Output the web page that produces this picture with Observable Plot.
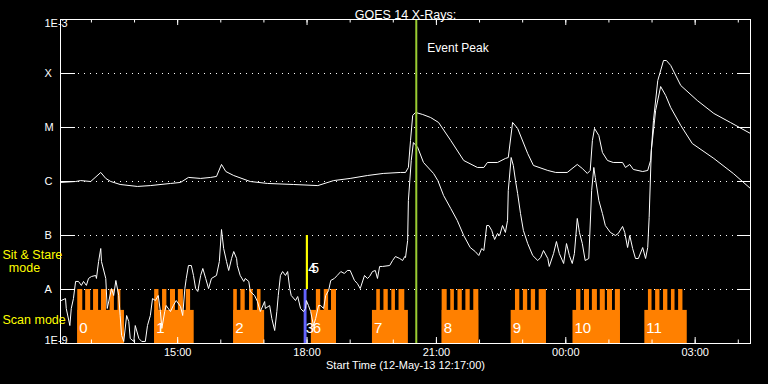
<!DOCTYPE html>
<html><head><meta charset="utf-8">
<script src="https://cdn.jsdelivr.net/npm/d3@7"></script>
<script src="https://cdn.jsdelivr.net/npm/@observablehq/plot@0.6"></script>
<style>html,body{margin:0;padding:0;background:#000;}</style>
</head><body><div id="chart"></div>
<script>
// ---- text ----
const title = "GOES 14 X-Rays:";
const xAxisTitle = "Start Time (12-May-13 12:17:00)";
const eventPeakLabel = "Event Peak";
const sitStareModeLabel = ["Sit & Stare", "mode"];
const scanModeLabel = "Scan mode";

// ---- time axis ----
const startTime = "2013-05-12T12:17:00Z";
const endTime = "2013-05-13T04:17:00Z";
const xTickTimes = ["2013-05-12T15:00:00Z", "2013-05-12T18:00:00Z", "2013-05-12T21:00:00Z", "2013-05-13T00:00:00Z", "2013-05-13T03:00:00Z"];
const xTickLabels = ["15:00", "18:00", "21:00", "00:00", "03:00"];

// ---- flux axis ----
const yTickValues = [1e-9, 1e-8, 1e-7, 1e-6, 1e-5, 1e-4, 1e-3];
const yTickLabels = ["1E-9", "A", "B", "C", "M", "X", "1E-3"];

// ---- GOES long channel (1-8 A): [minutes after start, W/m^2] ----
const longChannel = [[0,9.6e-7],[21,1.0e-6],[28,1.04e-6],[42,1.0e-6],[56,1.47e-6],[63,1.14e-6],[70,1.0e-6],[83,8.8e-7],[107,8.1e-7],[125,8.4e-7],
[153,9.2e-7],[167,9.6e-7],[178,1.19e-6],[195,1.14e-6],[209,1.19e-6],[217,1.24e-6],[224,2.07e-6],[230,1.53e-6],[241,1.29e-6],[264,1.0e-6],
[288,9.2e-7],[324,8.8e-7],[358,8.4e-7],[380,1.04e-6],[403,1.14e-6],[427,1.29e-6],[449,1.41e-6],[473,1.47e-6],[480,1.47e-6],[484,1.82e-6],
[487,5.74e-6],[490,1.67e-5],[494,1.9e-5],[504,1.74e-5],[515,1.53e-5],[526,1.24e-5],[543,5.74e-6],[561,2.45e-6],[580,1.82e-6],[589,1.82e-6],
[594,2.25e-6],[608,2.25e-6],[619,2.67e-6],[623,2.78e-6],[629,1.24e-5],[636,9.6e-6],[650,3.3e-6],[658,1.98e-6],[678,1.6e-6],[689,1.47e-6],
[705,1.47e-6],[719,2.07e-6],[726,1.74e-6],[733,1.41e-6],[737,1.6e-6],[740,5.74e-6],[743,9.6e-6],[749,7.1e-6],[754,3.44e-6],[761,2.45e-6],
[769,2.25e-6],[782,2.25e-6],[786,1.82e-6],[792,2.07e-6],[797,1.67e-6],[810,1.53e-6],[817,1.6e-6],[821,2.45e-6],[825,1.35e-5],[831,7.41e-5],
[839,1.74e-4],[843,1.74e-4],[849,1.41e-4],[863,5.99e-5],[886,3.16e-5],[909,1.82e-5],[932,1.24e-5],[960,7.74e-6]];

// ---- GOES short channel (0.5-4 A): [minutes after start, W/m^2] ----
const shortChannel = [[1,6.25e-9],[7,6.8e-9],[8,4.45e-9],[13,2.15e-9],[15,4.45e-9],[18,6.8e-9],[21,1.41e-8],[25,1.41e-8],[29,1.19e-8],[32,1.41e-8],
[36,1.19e-8],[39,1.6e-8],[43,1.74e-8],[49,1.82e-8],[50,1.6e-8],[53,3.3e-8],[56,5.74e-8],[57,3.3e-8],[63,1.6e-8],[65,4.45e-9],
[71,1.04e-8],[74,7.74e-9],[77,1.47e-8],[81,7.74e-9],[83,3.3e-9],[85,1.41e-9],[88,1.09e-9],[92,3.3e-9],[95,2.55e-9],[97,1.24e-9],
[102,1.09e-9],[104,2.15e-9],[109,1.24e-9],[113,1.09e-9],[118,1.09e-9],[121,2.15e-9],[125,3.3e-9],[128,6.8e-9],[132,6.25e-9],[136,7.74e-9],
[139,3.91e-9],[141,1.9e-9],[145,3.91e-9],[147,5.05e-9],[153,3.91e-9],[157,5.05e-9],[161,6.25e-9],[167,4.84e-9],[170,3.3e-9],[173,1.04e-8],
[175,1.6e-8],[178,2.78e-8],[182,2.78e-8],[185,1.82e-8],[188,1.04e-8],[191,9.2e-9],[195,1.82e-8],[198,2.45e-8],[202,1.6e-8],[206,1.04e-8],
[210,1.6e-8],[217,1.82e-8],[221,3.3e-8],[224,1.29e-7],[227,5.74e-8],[231,3.3e-8],[234,2.25e-8],[238,3.75e-8],[241,5.05e-8],[245,3.75e-8],
[246,2.78e-8],[250,1.82e-8],[255,1.41e-8],[257,1.6e-8],[262,1.41e-8],[264,9.2e-9],[270,7.74e-9],[274,5.99e-9],[278,3.91e-9],[284,5.99e-9],
[285,4.45e-9],[291,5.05e-9],[294,2.9e-9],[298,1.74e-9],[301,3.91e-9],[303,7.74e-9],[306,1.82e-8],[309,2.15e-8],[313,1.82e-8],[316,2.15e-8],
[319,1.04e-8],[321,7.74e-9],[327,6.25e-9],[330,7.41e-9],[334,4.45e-9],[338,3.91e-9],[341,4.45e-9],[342,6.25e-9],[345,5.05e-9],[348,3.91e-9],
[352,2.15e-9],[355,2.9e-9],[359,5.05e-9],[362,5.05e-9],[366,4.45e-9],[369,7.74e-9],[373,9.58e-9],[376,1.47e-8],[381,1.6e-8],[385,1.82e-8],
[390,2.15e-8],[395,1.98e-8],[399,2.25e-8],[403,2.25e-8],[409,1.47e-8],[413,1.29e-8],[417,1.04e-8],[423,1.82e-8],[427,1.6e-8],[430,1.74e-8],
[434,2.15e-8],[438,2.25e-8],[441,1.6e-8],[444,2.67e-8],[448,2.67e-8],[458,2.78e-8],[462,3.44e-8],[466,4.08e-8],[472,3.75e-8],[476,3.44e-8],
[479,4.08e-8],[480,3.91e-8],[483,8.07e-8],[484,4.45e-7],[488,2.45e-6],[491,5.27e-6],[497,4.26e-6],[505,2.25e-6],[519,1.41e-6],[525,1.04e-6],
[533,5.5e-7],[543,3.16e-7],[552,1.9e-7],[561,1.0e-7],[570,5.99e-8],[577,5.05e-8],[582,4.26e-8],[586,5.74e-8],[589,5.27e-8],[593,1.53e-7],
[596,1.53e-7],[600,1.24e-7],[604,8.43e-8],[608,1.09e-7],[611,1.0e-7],[615,1.53e-7],[619,1.14e-7],[622,1.9e-7],[623,6.81e-7],[627,2.78e-6],
[630,1.98e-6],[633,1.04e-6],[636,5.99e-7],[640,2.55e-7],[644,1.24e-7],[650,7.1e-8],[657,4.26e-8],[664,3.44e-8],[668,3.91e-8],[672,5.27e-8],
[678,3.75e-8],[680,2.67e-8],[686,4.64e-8],[690,7.74e-8],[694,4.64e-8],[700,3.03e-8],[704,7.1e-8],[708,4.26e-8],[712,3.03e-8],[715,4.64e-8],
[719,2.07e-7],[722,1.14e-7],[726,7.1e-8],[730,3.44e-8],[735,3.75e-8],[739,6.81e-7],[742,1.82e-6],[744,1.19e-6],[749,4.45e-7],[754,2.55e-7],
[758,1.53e-7],[765,1.14e-7],[772,1.0e-7],[776,1.09e-7],[782,1.47e-7],[785,1.14e-7],[789,5.99e-8],[792,1.0e-7],[796,5.74e-8],[800,3.75e-8],
[804,3.75e-8],[810,5.99e-8],[814,3.75e-8],[817,5.99e-8],[819,2.15e-7],[822,3.75e-6],[828,2.07e-5],[835,5.74e-5],[842,3.91e-5],[849,2.34e-5],
[863,1.09e-5],[879,5.05e-6],[909,2.67e-6],[936,1.41e-6],[960,7.41e-7]];

// ---- scan-mode observations: label, start, end (minutes after start) ----
const scanLabels   = ["0", "1", "2", "6", "7", "8", "9", "10", "11"];
const scanStartMin = [24, 131, 241, 349, 434, 531, 627, 713, 813];
const scanEndMin   = [89, 186, 284, 384, 484, 582, 676, 779, 872];
// individual rasters inside the scans [start, end]
const rasterWindows = [
  [24,31],[35,42],[46,53],[57,64],[69,75],[80,84],
  [131,137],[142,148],[153,160],[164,171],[175,181],
  [241,246],[251,257],[263,268],[274,279],
  [356,362],[367,373],[377,384],
  [440,445],[450,456],[461,466],[471,479],
  [531,538],[543,548],[553,559],[564,570],[575,582],
  [633,639],[644,650],[655,661],[666,676],
  [718,724],[729,736],[740,747],[751,758],[761,768],[772,779],
  [818,823],[828,834],[839,845],[850,855],[860,866]];
// short scan highlighted in blue
const blueScanLabel = "3", blueScanStart = 339, blueScanEnd = 343;
// sit & stare observations
const sitStareLabels = ["4", "5"];
const sitStareStart = 342, sitStareEnd = 345;
// flare peak
const eventPeakMin = 495;

// ---- helpers ----
const t0 = new Date(startTime).getTime();
const T = m => new Date(t0 + m * 60000);
const longData = longChannel.map(([m, f]) => ({t: T(m), f}));
const shortData = shortChannel.map(([m, f]) => ({t: T(m), f}));
const scans = scanLabels.map((l, i) => ({label: l, x1: T(scanStartMin[i]), x2: T(scanEndMin[i])}));
const rasters = rasterWindows.map(([a, b]) => ({x1: T(a), x2: T(b)}));
const blueScan = [{label: blueScanLabel, x1: T(blueScanStart), x2: T(blueScanEnd)}];
const sitStare = [{x1: T(sitStareStart), x2: T(sitStareEnd)}];
const hourTicks = d3.utcHour.range(new Date(startTime), new Date(endTime));
const majorTicks = xTickTimes.map(d => new Date(d));
const xLabelData = majorTicks.map((t, i) => ({t, label: xTickLabels[i]}));
const yTicks = yTickValues.map((v, i) => ({v, label: yTickLabels[i]}));
const gridLevels = yTickValues.slice(1, -1);

// levels (in flux units) of the observation bars
const FLOOR = 1e-9, SCAN_BASE = 4.1e-9, SCAN_TOP = 1e-8, SS_TOP = 1e-7;

const W = 768, H = 384, mL = 60, mR = 18, mT = 19, mB = 41;
const fw = W - mL - mR, fh = H - mT - mB;
const font = "Liberation Sans, Arial, sans-serif";
const ORANGE = "#ff8000", BLUE = "#6464ff", YEL = "#ffff00", GREEN = "#9acd32";
const ssX = T(sitStareStart);

const chart = Plot.plot({
  width: W, height: H,
  marginLeft: mL, marginRight: mR, marginTop: mT, marginBottom: mB,
  style: {background: "#000", color: "#fff", fontFamily: font},
  x: {type: "utc", domain: [new Date(startTime), new Date(endTime)], axis: null},
  y: {type: "log", domain: [1e-9, 1e-3], axis: null},
  marks: [
    // dotted gridlines + solid ticks on both sides
    Plot.ruleY(gridLevels, {stroke: "#fff", strokeWidth: 1, strokeDasharray: "1,5", insetLeft: 18, insetRight: 12}),
    Plot.ruleY(gridLevels, {stroke: "#fff", strokeWidth: 1, insetRight: fw - 15}),
    Plot.ruleY(gridLevels, {stroke: "#fff", strokeWidth: 1, insetLeft: fw - 13}),
    // scan blocks
    Plot.rect(scans, {x1: "x1", x2: "x2", y1: FLOOR, y2: SCAN_BASE, fill: ORANGE}),
    Plot.rect(rasters, {x1: "x1", x2: "x2", y1: FLOOR, y2: SCAN_TOP, fill: ORANGE}),
    Plot.rect(blueScan, {x1: "x1", x2: "x2", y1: FLOOR, y2: SCAN_TOP, fill: BLUE}),
    Plot.rect(sitStare, {x1: "x1", x2: "x2", y1: SCAN_TOP, y2: SS_TOP, fill: YEL}),
    // light curves
    Plot.line(shortData, {x: "t", y: "f", stroke: "#fff", strokeWidth: 1}),
    Plot.line(longData, {x: "t", y: "f", stroke: "#fff", strokeWidth: 1}),
    // event peak
    Plot.ruleX([T(eventPeakMin)], {stroke: GREEN, strokeWidth: 2}),
    Plot.text([eventPeakLabel], {x: () => T(eventPeakMin), frameAnchor: "top", dy: 24, dx: 11, textAnchor: "start", fill: "#fff", fontSize: 12}),
    // x ticks (inward, top and bottom)
    Plot.ruleX(hourTicks, {stroke: "#fff", insetTop: fh - 3.5}),
    Plot.ruleX(hourTicks, {stroke: "#fff", insetBottom: fh - 3.5}),
    Plot.ruleX(majorTicks, {stroke: "#fff", insetTop: fh - 6}),
    Plot.ruleX(majorTicks, {stroke: "#fff", insetBottom: fh - 6}),
    Plot.frame({stroke: "#fff", strokeWidth: 1}),
    // x tick labels and title
    Plot.text(xLabelData, {x: "t", text: "label", frameAnchor: "bottom", dy: 12.5, fill: "#fff", fontSize: 11}),
    Plot.text([xAxisTitle], {frameAnchor: "bottom", dy: 25, fill: "#fff", fontSize: 11}),
    Plot.text([title], {frameAnchor: "top", dy: -9, fill: "#fff", fontSize: 12.5}),
    // y tick labels
    Plot.text(yTicks.slice(1, -1), {y: "v", text: "label", frameAnchor: "left", dx: -16, fill: "#fff", fontSize: 11}),
    Plot.text(yTicks.slice(0, 1), {y: "v", text: "label", frameAnchor: "left", dx: -16, dy: -3, fill: "#fff", fontSize: 11}),
    Plot.text(yTicks.slice(-1), {y: "v", text: "label", frameAnchor: "left", dx: -16, dy: 4, fill: "#fff", fontSize: 11}),
    // mode labels
    Plot.text([sitStareModeLabel[0]], {frameAnchor: "bottom-left", dx: -58, dy: -85, textAnchor: "start", fill: YEL, fontSize: 12.5}),
    Plot.text([sitStareModeLabel[1]], {frameAnchor: "bottom-left", dx: -36, dy: -72, textAnchor: "middle", fill: YEL, fontSize: 12.5}),
    Plot.text([scanModeLabel], {frameAnchor: "bottom-left", dx: -58, dy: -19.5, textAnchor: "start", fill: YEL, fontSize: 12.5}),
    // observation numbers
    Plot.text(scans, {x: "x1", text: "label", frameAnchor: "bottom", dy: -10.5, dx: 1.5, textAnchor: "start", fill: "#fff", fontSize: 15}),
    Plot.text(blueScan, {x: "x1", text: "label", frameAnchor: "bottom", dy: -10.5, dx: 1.5, textAnchor: "start", fill: "#fff", fontSize: 15}),
    Plot.text([sitStareLabels[0]], {x: () => ssX, frameAnchor: "bottom", dy: -71, dx: 2, textAnchor: "start", fill: "#fff", fontSize: 14}),
    Plot.text([sitStareLabels[1]], {x: () => ssX, frameAnchor: "bottom", dy: -71, dx: 5, textAnchor: "start", fill: "#fff", fontSize: 14})
  ]
});
document.getElementById("chart").appendChild(chart);
</script>
</body></html>
